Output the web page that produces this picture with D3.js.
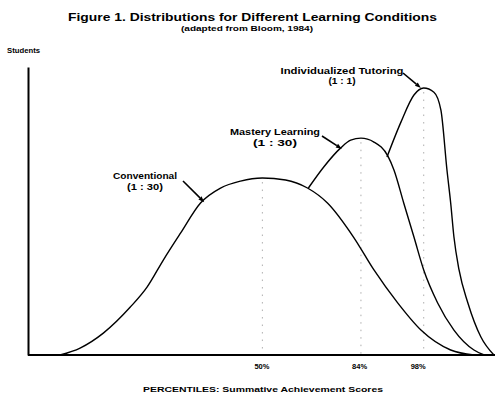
<!DOCTYPE html>
<html>
<head>
<meta charset="utf-8">
<script src="https://cdn.jsdelivr.net/npm/d3@7"></script>
<style>
  html, body { margin: 0; padding: 0; background: #fff; }
  svg { display: block; }
  text { font-family: "Liberation Sans", Arial, Helvetica, sans-serif; font-weight: bold; fill: #000; }
</style>
</head>
<body>
<script>
// ---- data (score position 0-100, relative number of students 0-100) ----
const conventionalX = [6.9, 11.2, 16.2, 22.0, 25.6, 29.1, 32.8, 37.1, 41.4, 45.7, 50.4, 55.4, 60.1, 64.4, 70.0, 74.4, 79.5, 84.5, 90.9, 95.9];
const conventionalY = [0, 2.5, 7.9, 17.3, 24.5, 34.3, 44.0, 54.9, 60.3, 62.8, 63.9, 63.2, 60.3, 54.9, 42.6, 30.7, 18.8, 9.0, 1.8, 0];

const masteryX = [60.3, 63.6, 67.2, 69.4, 71.6, 74.4, 77.4, 78.7, 80.8, 83.0, 85.1, 88.1, 91.6, 95.9, 98.1];
const masteryY = [60.3, 67.9, 74.7, 77.6, 78.3, 76.9, 71.8, 66.8, 54.9, 42.6, 30.7, 18.8, 9.0, 1.8, 0];

const tutoringX = [77.2, 80.2, 83.0, 85.1, 87.3, 88.8, 90.1, 90.9, 91.6, 92.7, 94.6, 97.4, 100.2];
const tutoringY = [71.5, 84.1, 93.9, 96.4, 94.9, 88.4, 66.8, 54.9, 42.6, 30.7, 18.8, 6.5, 0];

const seriesNames = ["Conventional", "Mastery Learning", "Individualized Tutoring"];
const seriesRatios = ["(1 : 30)", "(1 : 30)", "(1 : 1)"];
const peakX = [50.4, 71.6, 85.1];
const peakY = [63.9, 78.3, 96.4];
const arrowTipX = [37.9, 67.5, 84.5];
const arrowTipY = [55.2, 74.4, 96.4];

const tickPositions = [50.2, 71.2, 83.8];
const tickLabels = ["50%", "84%", "98%"];

const titleText = "Figure 1.  Distributions for Different Learning Conditions";
const subtitleText = "(adapted from Bloom, 1984)";
const yLabel = "Students";
const xLabel = "PERCENTILES: Summative Achievement Scores";

// ---- layout ----
const W = 497, H = 400;
const svg = d3.select("body").append("svg").attr("width", W).attr("height", H);

const x = d3.scaleLinear().domain([0, 100]).range([28, 493]);
const y = d3.scaleLinear().domain([0, 104]).range([355, 67]);

// titles
svg.append("text").attr("x", 252.5).attr("y", 20.5).attr("text-anchor", "middle")
  .attr("font-size", 11).attr("textLength", 369).attr("lengthAdjust", "spacingAndGlyphs").text(titleText);
svg.append("text").attr("x", 247).attr("y", 30.5).attr("text-anchor", "middle")
  .attr("font-size", 7).attr("textLength", 132).attr("lengthAdjust", "spacingAndGlyphs").text(subtitleText);
svg.append("text").attr("x", 7).attr("y", 53).attr("font-size", 8)
  .attr("textLength", 33).attr("lengthAdjust", "spacingAndGlyphs").text(yLabel);

// dotted vertical lines at peaks
peakX.forEach((px, i) => {
  svg.append("line")
    .attr("x1", x(px)).attr("x2", x(px))
    .attr("y1", y(peakY[i]) + 4).attr("y2", y(0))
    .attr("stroke", "#999").attr("stroke-width", 0.8)
    .attr("stroke-dasharray", "1.5,6");
});

// curves
const line = d3.line().x(d => x(d[0])).y(d => y(d[1])).curve(d3.curveMonotoneX);
const series = [
  d3.zip(conventionalX, conventionalY),
  d3.zip(masteryX, masteryY),
  d3.zip(tutoringX, tutoringY)
];
series.forEach(s => {
  svg.append("path").datum(s).attr("d", line)
    .attr("fill", "none").attr("stroke", "#000").attr("stroke-width", 1.4);
});

// axes
const xAxis = d3.axisBottom(x).tickValues(tickPositions).tickFormat((d, i) => tickLabels[i])
  .tickSize(0).tickPadding(12);
const gx = svg.append("g").attr("transform", `translate(0,${y(0)})`).call(xAxis);
gx.select(".domain").attr("stroke", "#000").attr("stroke-width", 2).attr("d", `M${x(0)},0H495`);
gx.selectAll(".tick text").attr("font-size", 7.5).attr("font-family", "Liberation Sans, Arial, sans-serif")
  .attr("font-weight", "bold").attr("fill", "#000").attr("dy", "0.3em");

const yAxis = d3.axisLeft(y).tickValues([]).tickSize(0);
const gy = svg.append("g").attr("transform", `translate(${x(0)},0)`).call(yAxis);
gy.select(".domain").attr("stroke", "#000").attr("stroke-width", 2);

svg.append("text").attr("x", 263).attr("y", 392).attr("text-anchor", "middle")
  .attr("font-size", 8).attr("textLength", 240).attr("lengthAdjust", "spacingAndGlyphs").text(xLabel);

// annotations
const labelPos = [
  { cx: 145, y1: 178.5, y2: 189.5, w1: 64, w2: 36, ax: 183, ay: 181 },
  { cx: 275, y1: 134.5, y2: 145.5, w1: 90, w2: 44, ax: 322, ay: 136 },
  { cx: 342, y1: 73.5, y2: 83.5, w1: 123, w2: 27, ax: 403, ay: 73 }
];
seriesNames.forEach((name, i) => {
  const p = labelPos[i];
  svg.append("text").attr("x", p.cx).attr("y", p.y1).attr("text-anchor", "middle")
    .attr("font-size", 8.5).attr("textLength", p.w1).attr("lengthAdjust", "spacingAndGlyphs").text(name);
  svg.append("text").attr("x", p.cx).attr("y", p.y2).attr("text-anchor", "middle")
    .attr("font-size", 8.5).attr("textLength", p.w2).attr("lengthAdjust", "spacingAndGlyphs").text(seriesRatios[i]);
  const tx = x(arrowTipX[i]), ty = y(arrowTipY[i]);
  const ang = Math.atan2(ty - p.ay, tx - p.ax);
  const hl = 6, hw = 2.2;
  const bx = tx - hl * Math.cos(ang), by = ty - hl * Math.sin(ang);
  svg.append("line").attr("x1", p.ax).attr("y1", p.ay).attr("x2", bx).attr("y2", by)
    .attr("stroke", "#000").attr("stroke-width", 1.6);
  const px = -Math.sin(ang) * hw, py = Math.cos(ang) * hw;
  svg.append("path")
    .attr("d", `M${tx},${ty}L${bx + px},${by + py}L${bx - px},${by - py}Z`)
    .attr("fill", "#000");
});
</script>
</body>
</html>
